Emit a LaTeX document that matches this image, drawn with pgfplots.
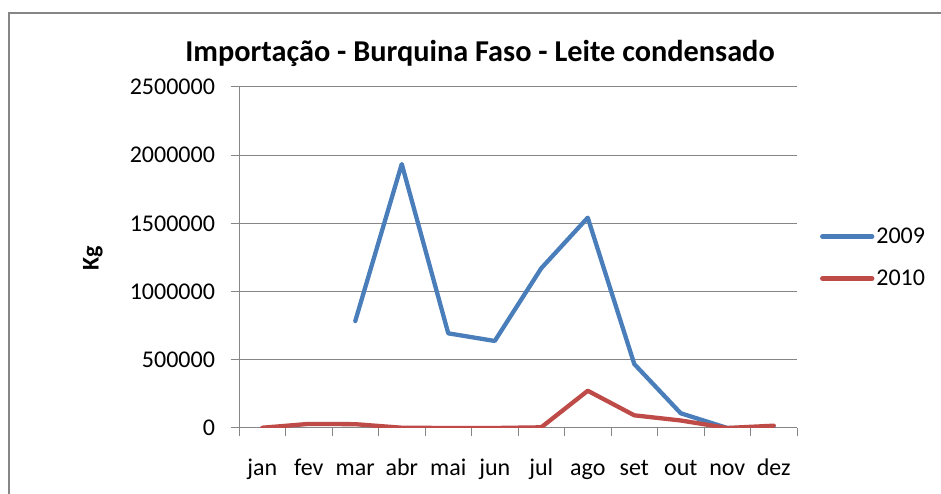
\documentclass[border=0pt]{standalone}
\usepackage{fontspec}
\setmainfont{Carlito}
\usepackage{pgfplots}
\pgfplotsset{compat=1.18}
\definecolor{blueS}{HTML}{4A7EBB}
\definecolor{redS}{HTML}{BE4B48}
\definecolor{gridc}{HTML}{868686}
\begin{document}
\begin{tikzpicture}[x=1pt,y=1pt]
\useasboundingbox (0,0) rectangle (941,494);
\draw[gridc, line width=1.5pt] (9,-10) -- (9,481) -- (960,481);
\node[font=\fontsize{30.3}{34}\selectfont\bfseries, anchor=base] at (480,432) {Importação - Burquina Faso - Leite condensado};
\node[font=\fontsize{24}{28}\selectfont\bfseries, rotate=90] at (93,236) {Kg};
\begin{axis}[at={(239pt,66pt)}, anchor=south west, scale only axis,
  width=558pt, height=341pt,
  xmin=0.5, xmax=12.5, ymin=0, ymax=2500000,
  axis x line*=bottom, axis y line*=left,
  axis line style={gridc, line width=1pt},
  tick style={gridc, line width=1pt},
  tick align=outside, major tick length=8.5pt,
  ytick={0,500000,1000000,1500000,2000000,2500000},
  scaled y ticks=false,
  yticklabel style={/pgf/number format/fixed, /pgf/number format/1000 sep={}, /pgf/number format/assume math mode=true, xshift=-12pt},
  ymajorgrids, major grid style={gridc, line width=1pt},
  xtick={0.5,1.5,...,12.5}, xticklabels={},
  extra x ticks={1,2,3,4,5,6,7,8,9,10,11,12},
  extra x tick labels={jan,fev,mar,abr,mai,jun,jul,ago,set,out,nov,dez},
  extra x tick style={major tick length=0pt, tick style={draw=none}, xticklabel style={anchor=base, yshift=-48pt}},
  tick label style={font=\fontsize{24}{28}\selectfont},
  legend style={at={(1.041,0.5)}, anchor=west, draw=none, fill=none, font=\fontsize{24}{28}\selectfont, row sep=21pt, inner xsep=0pt, inner ysep=0pt},
  legend cell align=left,
  legend image code/.code={\draw[#1] (0pt,0pt) -- (50pt,0pt);},
  every axis plot/.append style={line width=4.3pt, line join=round, line cap=round},
]
\addplot[blueS] coordinates {(3,784000)(4,1935000)(5,694000)(6,638000)(7,1171000)(8,1542000)(9,469000)(10,108000)(11,0)(12,0)};
\addplot[redS] coordinates {(1,2000)(2,30000)(3,28000)(4,2000)(5,0)(6,0)(7,5000)(8,273000)(9,93000)(10,55000)(11,0)(12,17000)};
\legend{2009,2010}
\end{axis}
\end{tikzpicture}
\end{document}
